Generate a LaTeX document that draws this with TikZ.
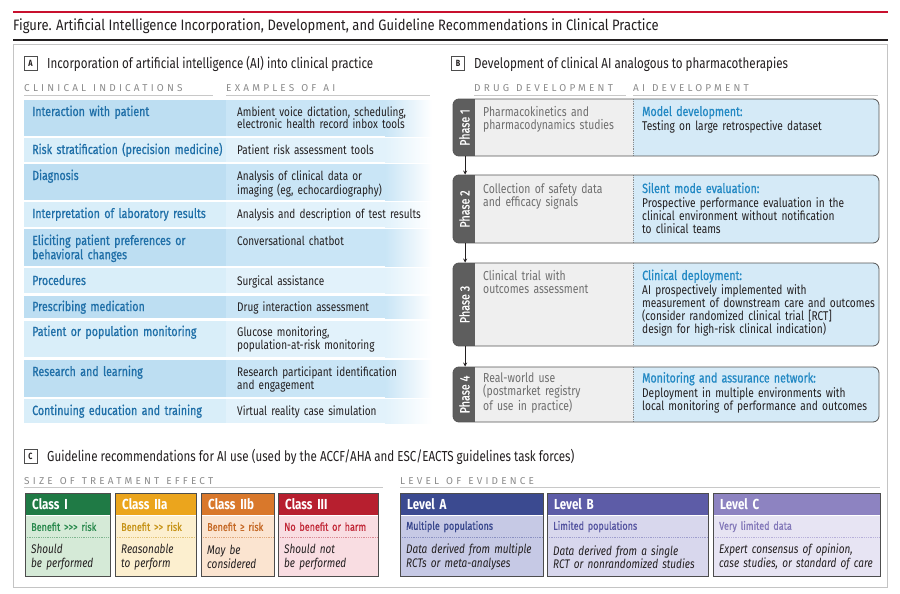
\documentclass[tikz,border=0pt]{standalone}
\usepackage{fontspec}
\setmainfont{Fira Sans}[FakeStretch=0.8]
\newfontfamily\trackfont{Fira Sans}[LetterSpace=32]
\newfontfamily\headfont{Fira Sans}[FakeStretch=0.86]
\newfontfamily\medfont{Fira Sans}[FakeStretch=0.8,FakeBold=0.8]
\usetikzlibrary{positioning, arrows}

\definecolor{figred}{HTML}{C8102E}
\definecolor{ink}{HTML}{231F20}
\definecolor{framegray}{HTML}{C4C4C4}
\definecolor{trackgray}{HTML}{8C8C8C}
\definecolor{rulegray}{HTML}{C8C8C8}
\definecolor{indicblue}{HTML}{1F6FA8}
\definecolor{aiblue}{HTML}{2389C4}
\definecolor{indicdark}{HTML}{BDDEF2}
\definecolor{indiclight}{HTML}{D9EEF9}
\definecolor{exdark}{HTML}{C9E5F6}
\definecolor{exlight}{HTML}{E2F2FB}
\definecolor{stripgray}{HTML}{5E5E5E}
\definecolor{druggray}{HTML}{EFEFEF}
\definecolor{drugink}{HTML}{6E6E6E}
\definecolor{aifill}{HTML}{D5EAF7}
\definecolor{phaseline}{HTML}{555555}
\definecolor{boxgray}{HTML}{4D4D4D}
% class and level colours
\definecolor{c1head}{HTML}{1F7A45}\definecolor{c1body}{HTML}{D5EAD7}\definecolor{c1text}{HTML}{2A8A4E}\definecolor{c1dot}{HTML}{7FB58F}
\definecolor{c2head}{HTML}{EBA51D}\definecolor{c2body}{HTML}{FCEFCF}\definecolor{c2text}{HTML}{C79419}\definecolor{c2dot}{HTML}{E2C377}
\definecolor{c3head}{HTML}{D9782B}\definecolor{c3body}{HTML}{FBE4D0}\definecolor{c3text}{HTML}{C66A27}\definecolor{c3dot}{HTML}{E1A97C}
\definecolor{c4head}{HTML}{B71F2F}\definecolor{c4body}{HTML}{F9DDE2}\definecolor{c4text}{HTML}{C22838}\definecolor{c4dot}{HTML}{D98B95}
\definecolor{lAhead}{HTML}{3B4A90}\definecolor{lAbody}{HTML}{C6C9E5}\definecolor{lAtext}{HTML}{37468C}\definecolor{lAdot}{HTML}{8A90C2}
\definecolor{lBhead}{HTML}{5D5CA7}\definecolor{lBbody}{HTML}{D8D7ED}\definecolor{lBtext}{HTML}{5453A0}\definecolor{lBdot}{HTML}{9F9ECE}
\definecolor{lChead}{HTML}{8D83C1}\definecolor{lCbody}{HTML}{E7E4F3}\definecolor{lCtext}{HTML}{8378B9}\definecolor{lCdot}{HTML}{B8B0DA}

\tikzstyle{figtitle} = [anchor=base west, inner sep=0pt, text=ink,
font=\headfont\fontsize{15.1}{17}\selectfont]
\tikzstyle{panelbox} = [draw=boxgray, line width=0.7pt, minimum width=13pt,
minimum height=14pt, inner sep=0pt, text=ink,
font=\bfseries\fontsize{9}{9}\selectfont]
\tikzstyle{paneltitle} = [anchor=base west, inner sep=0pt, text=ink,
font=\fontsize{14.5}{16}\selectfont]
\tikzstyle{colhead} = [anchor=base west, inner sep=0pt, text=trackgray,
font=\trackfont\fontsize{10}{12}\selectfont]
\tikzstyle{colrule} = [draw=rulegray, line width=0.8pt]
\tikzstyle{bodytext} = [anchor=base west, inner sep=0pt, align=left,
font=\fontsize{12.5}{13}\selectfont]
\tikzstyle{indic} = [bodytext, text=indicblue, text width=196pt,
font=\medfont\fontsize{13.3}{13}\selectfont]
\tikzstyle{example} = [bodytext, text=ink, text width=200pt]
\tikzstyle{drugtext} = [bodytext, text=drugink, text width=148pt,
font=\fontsize{13}{13.2}\selectfont]
\tikzstyle{aitext} = [bodytext, text=ink, text width=245pt,
font=\fontsize{12.7}{13}\selectfont]
\tikzstyle{phaselabel} = [rotate=90, inner sep=0pt, text=white,
font=\medfont\fontsize{13.5}{14}\selectfont]
\tikzstyle{phasearrow} = [thick,->,>=stealth, draw=ink]
\tikzstyle{exfade} = [right color=white]
\tikzstyle{classhead} = [anchor=north west, inner xsep=7pt, inner ysep=0pt,
minimum height=22pt, align=left, text=white,
font=\bfseries\fontsize{14.5}{16}\selectfont]
\tikzstyle{classsub} = [inner xsep=6pt, inner ysep=0pt, minimum height=22pt,
align=left, font=\medfont\fontsize{11.3}{13}\selectfont]
\tikzstyle{classbody} = [inner xsep=6pt, inner ysep=0pt, minimum height=38pt,
align=left, text=ink, font=\itshape\fontsize{12.5}{13.5}\selectfont]
\tikzstyle{boxline} = [draw=boxgray, line width=0.8pt]
\tikzstyle{sepline} = [densely dotted, line width=0.8pt]
\tikzset{phasebox/.style={draw=phaseline, line width=0.8pt, rounded corners=6pt,
minimum width=426pt, inner sep=0pt, fill=druggray,
path picture={
\fill[stripgray, sharp corners] (path picture bounding box.north west) rectangle ([xshift=22pt]path picture bounding box.south west);
\fill[aifill, sharp corners] ([xshift=180pt]path picture bounding box.north west) rectangle (path picture bounding box.south east);
\draw[trackgray, densely dotted, line width=0.8pt, sharp corners] ([xshift=180pt]path picture bounding box.north west) -- ([xshift=180pt]path picture bounding box.south west);
}}}
\newcommand{\aihead}[1]{{\medfont\fontsize{13.3}{13}\selectfont\color{aiblue}#1}}
\newcommand{\wsp}{\hspace{7pt}}

\begin{document}
\begin{tikzpicture}[x=1pt, y=-1pt]
\useasboundingbox (0,0) rectangle (900,594);
\fill[white] (0,0) rectangle (900,594);
% title bar
\draw[figred, line width=2.4pt] (13,12.3) -- (888,12.3);
\node (title) [figtitle] at (13,30.5) {Figure. Artificial Intelligence Incorporation, Development, and Guideline Recommendations in Clinical Practice};
\draw[ink, line width=1.6pt] (13,39.8) -- (888,39.8);
\draw[framegray, line width=1pt] (13.5,45) rectangle (887.5,587.5);

% panel A
\node (boxA) [panelbox] at (30.5,63.5) {A};
\node (titleA) [paneltitle] at (47,69) {Incorporation of artificial intelligence (AI) into clinical practice};
\node (hdIndic) [colhead] at (24,92) {CLINICAL\wsp INDICATIONS};
\node (hdExam) [colhead] at (226,92) {EXAMPLES\wsp OF\wsp AI};
\draw[colrule] (24,95.5) -- (213,95.5);
\draw[colrule] (226,95.5) -- (430,95.5);

\fill[indicdark] (24,100) rectangle (226,136); \fill[exdark] (226,100) rectangle (385,136);
\shade[exfade, left color=exdark] (385,100) rectangle (432,136);
\node (ci1) [indic] at (32,116) {Interaction with patient};
\node (ex1) [example] at (237,116) {Ambient voice dictation, scheduling,\\electronic health record inbox tools};

\fill[indiclight] (24,138) rectangle (226,162); \fill[exlight] (226,138) rectangle (385,162);
\shade[exfade, left color=exlight] (385,138) rectangle (432,162);
\node (ci2) [indic] at (32,154) {Risk stratification (precision medicine)};
\node (ex2) [example] at (237,154) {Patient risk assessment tools};

\fill[indicdark] (24,164) rectangle (226,200); \fill[exdark] (226,164) rectangle (385,200);
\shade[exfade, left color=exdark] (385,164) rectangle (432,200);
\node (ci3) [indic] at (32,180) {Diagnosis};
\node (ex3) [example] at (237,180) {Analysis of clinical data or\\imaging (eg, echocardiography)};

\fill[indiclight] (24,202) rectangle (226,227); \fill[exlight] (226,202) rectangle (385,227);
\shade[exfade, left color=exlight] (385,202) rectangle (432,227);
\node (ci4) [indic] at (32,218) {Interpretation of laboratory results};
\node (ex4) [example] at (237,218) {Analysis and description of test results};

\fill[indicdark] (24,229) rectangle (226,266); \fill[exdark] (226,229) rectangle (385,266);
\shade[exfade, left color=exdark] (385,229) rectangle (432,266);
\node (ci5) [indic] at (32,245) {Eliciting patient preferences or\\behavioral changes};
\node (ex5) [example] at (237,245) {Conversational chatbot};

\fill[indiclight] (24,268) rectangle (226,293); \fill[exlight] (226,268) rectangle (385,293);
\shade[exfade, left color=exlight] (385,268) rectangle (432,293);
\node (ci6) [indic] at (32,285) {Procedures};
\node (ex6) [example] at (237,285) {Surgical assistance};

\fill[indicdark] (24,296) rectangle (226,318); \fill[exdark] (226,296) rectangle (385,318);
\shade[exfade, left color=exdark] (385,296) rectangle (432,318);
\node (ci7) [indic] at (32,311) {Prescribing medication};
\node (ex7) [example] at (237,311) {Drug interaction assessment};

\fill[indiclight] (24,321) rectangle (226,357); \fill[exlight] (226,321) rectangle (385,357);
\shade[exfade, left color=exlight] (385,321) rectangle (432,357);
\node (ci8) [indic] at (32,336) {Patient or population monitoring};
\node (ex8) [example] at (237,336) {Glucose monitoring,\\population-at-risk monitoring};

\fill[indicdark] (24,360) rectangle (226,397); \fill[exdark] (226,360) rectangle (385,397);
\shade[exfade, left color=exdark] (385,360) rectangle (432,397);
\node (ci9) [indic] at (32,376) {Research and learning};
\node (ex9) [example] at (237,376) {Research participant identification\\and engagement};

\fill[indiclight] (24,399) rectangle (226,423); \fill[exlight] (226,399) rectangle (385,423);
\shade[exfade, left color=exlight] (385,399) rectangle (432,423);
\node (ci10) [indic] at (32,415) {Continuing education and training};
\node (ex10) [example] at (237,415) {Virtual reality case simulation};

% panel B
\node (boxB) [panelbox] at (458,63.5) {B};
\node (titleB) [paneltitle] at (474,69) {Development of clinical AI analogous to pharmacotherapies};
\node (hdDrug) [colhead] at (474,92) {DRUG\wsp DEVELOPMENT};
\node (hdAI) [colhead] at (633,92) {AI\wsp DEVELOPMENT};
\draw[colrule] (474,95.5) -- (626,95.5);
\draw[colrule] (633,95.5) -- (878,95.5);

\node (p1) [phasebox, minimum height=57pt] at (666,127.5) {};
\node (p2) [phasebox, minimum height=68pt] at (666,209) {};
\node (p3) [phasebox, minimum height=83pt] at (666,304.5) {};
\node (p4) [phasebox, minimum height=55pt] at (666,394.5) {};
\node (ph1) [phaselabel] at (464.5,127.5) {Phase 1};
\node (ph2) [phaselabel] at (464.5,209) {Phase 2};
\node (ph3) [phaselabel] at (464.5,304.5) {Phase 3};
\node (ph4) [phaselabel] at (464.5,394.5) {Phase 4};
\draw[phasearrow] ([xshift=12.5pt]p1.south west) -- ([xshift=12.5pt]p2.north west);
\draw[phasearrow] ([xshift=12.5pt]p2.south west) -- ([xshift=12.5pt]p3.north west);
\draw[phasearrow] ([xshift=12.5pt]p3.south west) -- ([xshift=12.5pt]p4.north west);

\node (d1) [drugtext] at (483,116) {Pharmacokinetics and\\pharmacodynamics studies};
\node (a1) [aitext] at (642,116) {\aihead{Model development:}\\[1.7pt]Testing on large retrospective dataset};
\node (d2) [drugtext] at (483,193) {Collection of safety data\\and efficacy signals};
\node (a2) [aitext] at (642,193) {\aihead{Silent mode evaluation:}\\[1.7pt]Prospective performance evaluation in the\\clinical environment without notification\\to clinical teams};
\node (d3) [drugtext] at (483,280) {Clinical trial with\\outcomes assessment};
\node (a3) [aitext] at (642,280) {\aihead{Clinical deployment:}\\[1.7pt]AI prospectively implemented with\\measurement of downstream care and outcomes\\(consider randomized clinical trial [RCT]\\design for high-risk clinical indication)};
\node (d4) [drugtext] at (483,382.5) {Real-world use\\(postmarket registry\\of use in practice)};
\node (a4) [aitext] at (642,382.5) {\aihead{Monitoring and assurance network:}\\[1.7pt]Deployment in multiple environments with\\local monitoring of performance and outcomes};

% panel C
\node (boxC) [panelbox] at (30.5,456) {C};
\node (titleC) [paneltitle] at (47,461) {Guideline recommendations for AI use (used by the ACCF/AHA and ESC/EACTS guidelines task forces)};
\node (hdSize) [colhead] at (24,484) {SIZE\wsp OF\wsp TREATMENT\wsp EFFECT};
\node (hdLevel) [colhead] at (400,484) {LEVEL\wsp OF\wsp EVIDENCE};
\draw[colrule] (24,487.5) -- (383,487.5);
\draw[colrule] (400,487.5) -- (880,487.5);

\node (c1h) [classhead, fill=c1head, text width=71pt] at (25,493) {Class I};
\node (c1s) [classsub, fill=c1body, text=c1text, text width=73pt, below=0pt of c1h] {Benefit >{}>{}> risk};
\node (c1b) [classbody, fill=c1body, text width=73pt, below=0pt of c1s] {Should\\be performed};
\draw[sepline, draw=c1dot] (c1s.south west) -- (c1s.south east);
\draw[boxline] (c1h.north west) rectangle (c1b.south east);

\node (c2h) [classhead, fill=c2head, text width=67pt] at (115,493) {Class IIa};
\node (c2s) [classsub, fill=c2body, text=c2text, text width=69pt, below=0pt of c2h] {Benefit >{}> risk};
\node (c2b) [classbody, fill=c2body, text width=69pt, below=0pt of c2s] {Reasonable\\to perform};
\draw[sepline, draw=c2dot] (c2s.south west) -- (c2s.south east);
\draw[boxline] (c2h.north west) rectangle (c2b.south east);

\node (c3h) [classhead, fill=c3head, text width=59pt] at (201,493) {Class IIb};
\node (c3s) [classsub, fill=c3body, text=c3text, text width=61pt, below=0pt of c3h] {Benefit ≥ risk};
\node (c3b) [classbody, fill=c3body, text width=61pt, below=0pt of c3s] {May be\\considered};
\draw[sepline, draw=c3dot] (c3s.south west) -- (c3s.south east);
\draw[boxline] (c3h.north west) rectangle (c3b.south east);

\node (c4h) [classhead, fill=c4head, text width=86pt] at (278,493) {Class III};
\node (c4s) [classsub, fill=c4body, text=c4text, text width=88pt, below=0pt of c4h] {No benefit or harm};
\node (c4b) [classbody, fill=c4body, text width=88pt, below=0pt of c4s] {Should not\\be performed};
\draw[sepline, draw=c4dot] (c4s.south west) -- (c4s.south east);
\draw[boxline] (c4h.north west) rectangle (c4b.south east);

\node (lAh) [classhead, fill=lAhead, text width=129pt] at (400,493) {Level A};
\node (lAs) [classsub, fill=lAbody, text=lAtext, text width=131pt, below=0pt of lAh] {Multiple populations};
\node (lAb) [classbody, fill=lAbody, text width=131pt, below=0pt of lAs] {Data derived from multiple\\RCTs or meta-analyses};
\draw[sepline, draw=lAdot] (lAs.south west) -- (lAs.south east);
\draw[boxline] (lAh.north west) rectangle (lAb.south east);

\node (lBh) [classhead, fill=lBhead, text width=147pt] at (547,493) {Level B};
\node (lBs) [classsub, fill=lBbody, text=lBtext, text width=149pt, below=0pt of lBh] {Limited populations};
\node (lBb) [classbody, fill=lBbody, text width=149pt, below=0pt of lBs] {Data derived from a single\\RCT or nonrandomized studies};
\draw[sepline, draw=lBdot] (lBs.south west) -- (lBs.south east);
\draw[boxline] (lBh.north west) rectangle (lBb.south east);

\node (lCh) [classhead, fill=lChead, text width=153pt] at (713,493) {Level C};
\node (lCs) [classsub, fill=lCbody, text=lCtext, text width=155pt, below=0pt of lCh] {Very limited data};
\node (lCb) [classbody, fill=lCbody, text width=155pt, below=0pt of lCs] {Expert consensus of opinion,\\case studies, or standard of care};
\draw[sepline, draw=lCdot] (lCs.south west) -- (lCs.south east);
\draw[boxline] (lCh.north west) rectangle (lCb.south east);
\end{tikzpicture}
\end{document}
